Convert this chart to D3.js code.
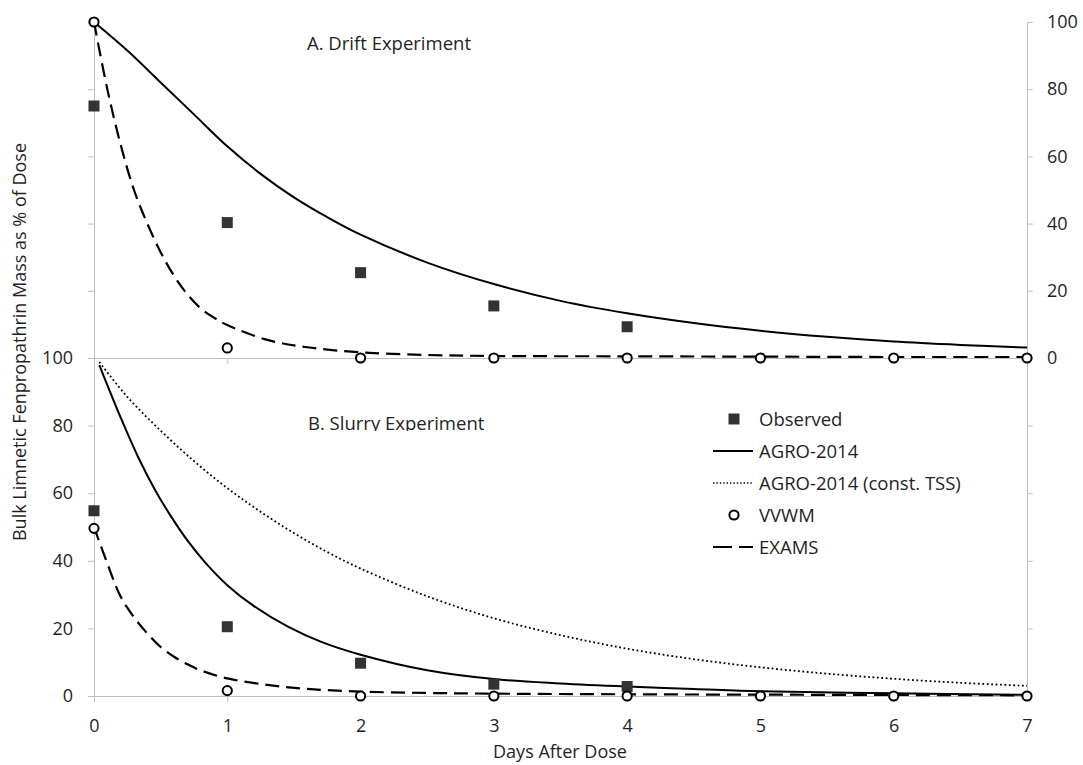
<!DOCTYPE html>
<html>
<head>
<meta charset="utf-8">
<script src="https://cdn.jsdelivr.net/npm/d3@7"></script>
<style>
  html, body { margin: 0; padding: 0; background: #fff; }
  svg { display: block; }
  text { font-family: "Open Sans", "DejaVu Sans", sans-serif; fill: #1f1f1f; }
  .axis path, .axis line { stroke: #bfbfbf; stroke-width: 1; }
  .axis text { font-size: 18px; fill: #1f1f1f; }
</style>
</head>
<body>
<svg id="chart" width="1083" height="765"></svg>
<script>
// ---------- DATA ----------
const days = [0, 1, 2, 3, 4, 5, 6, 7];
const yTicks = [0, 20, 40, 60, 80, 100];
const yMinorTicks = [20, 40, 60, 80, 100];

// Panel A: Drift Experiment
const obsDaysA = [0, 1, 2, 3, 4];
const obsA = [75, 40.3, 25.4, 15.5, 9.3];
const vvwmA = [100, 3.0, 0, 0, 0, 0, 0, 0];
const tAgroA = [0, 0.25, 0.5, 0.75, 1, 1.25, 1.5, 1.75, 2, 2.5, 3, 3.5, 4, 4.5, 5, 5.5, 6, 6.5, 7];
const agroA = [100, 91.5, 82, 72.5, 63, 54.8, 47.8, 41.9, 36.7, 28.4, 22, 17, 13.3, 10.4, 8.1, 6.3, 4.9, 3.9, 3.1];
const tExamsA = [0, 0.1, 0.2, 0.3, 0.4, 0.5, 0.6, 0.7, 0.8, 0.9, 1.0, 1.3, 1.6, 2.0, 2.5, 3, 4, 5, 6, 7];
const examsA = [100, 80, 63.5, 50, 40, 31.5, 24.5, 19, 14.8, 12, 9.8, 5.4, 3.2, 1.7, 0.9, 0.6, 0.5, 0.4, 0.3, 0.3];

// Panel B: Slurry Experiment
const obsDaysB = [0, 1, 2, 3, 4];
const obsB = [54.8, 20.5, 9.7, 3.5, 2.8];
const vvwmB = [49.6, 1.6, 0, 0, 0, 0, 0, 0];
const tAgroB = [0.04, 0.1, 0.2, 0.33, 0.455, 0.58, 0.705, 0.83, 1.0, 1.2, 1.455, 1.705, 2.0, 2.5, 3.0, 3.5, 4.0, 4.5, 5.0, 6.0, 7.0];
const agroB = [97.9, 92, 82.4, 70.8, 61.2, 53, 45.8, 39.7, 32.8, 26.6, 20.5, 16.0, 12.2, 7.6, 5.0, 3.7, 2.8, 2.1, 1.4, 0.8, 0.35];
const tTssB = [0.04, 0.25, 0.5, 0.75, 1, 1.25, 1.5, 1.75, 2, 2.5, 3, 3.5, 4, 4.5, 5, 5.5, 6, 6.5, 7];
const tssB = [98.8, 88.5, 78.5, 69.5, 61.5, 54.5, 48.2, 42.6, 37.7, 29.5, 23, 18, 14, 10.9, 8.5, 6.6, 5.1, 3.9, 3.0];
const tExamsB = [0, 0.1, 0.2, 0.3, 0.4, 0.5, 0.6, 0.7, 0.8, 1.0, 1.3, 1.6, 2.0, 2.5, 3, 4, 5, 6, 7];
const examsB = [50, 39.2, 29.4, 23.3, 18.5, 14.5, 11.6, 9.4, 7.6, 5.2, 3.3, 2.1, 1.3, 0.9, 0.7, 0.5, 0.4, 0.3, 0.2];

const legendLabels = ["Observed", "AGRO-2014", "AGRO-2014 (const. TSS)", "VVWM", "EXAMS"];

// ---------- LAYOUT ----------
const svg = d3.select("#chart");
const x = d3.scaleLinear().domain([0, 7]).range([94, 1027]);
const yA = d3.scaleLinear().domain([0, 100]).range([358, 22]);
const yB = d3.scaleLinear().domain([0, 100]).range([696, 358]);
const fmt = d3.format("d");

// ---------- AXES ----------
function styleAxis(g) { g.attr("class", "axis"); }

// Top panel
svg.append("g").attr("transform", `translate(${x(7)},0)`)
  .call(d3.axisRight(yA).tickValues(yTicks).tickFormat(fmt).tickSize(6).tickPadding(14).tickSizeOuter(0))
  .call(styleAxis);
svg.append("g").attr("transform", `translate(${x(0)},0)`)
  .call(d3.axisLeft(yA).tickValues(yMinorTicks).tickSize(6).tickFormat("").tickSizeOuter(0))
  .call(styleAxis);
svg.append("g").attr("transform", `translate(0,${yA(0)})`)
  .call(d3.axisBottom(x).tickValues(days).tickSize(6).tickFormat("").tickSizeOuter(0))
  .call(styleAxis);

// Bottom panel
svg.append("g").attr("transform", `translate(${x(0)},0)`)
  .call(d3.axisLeft(yB).tickValues(yTicks).tickFormat(fmt).tickSize(6).tickPadding(15).tickSizeOuter(0))
  .call(styleAxis);
svg.append("g").attr("transform", `translate(${x(7)},0)`)
  .call(d3.axisRight(yB).tickValues([20, 40, 60, 80]).tickSize(6).tickFormat("").tickSizeOuter(0))
  .call(styleAxis);
svg.append("g").attr("transform", `translate(0,${yB(0)})`)
  .call(d3.axisBottom(x).tickValues(days).tickFormat(fmt).tickSize(6).tickPadding(17).tickSizeOuter(0))
  .call(styleAxis);

// ---------- TITLES ----------
svg.append("text").attr("x", 307).attr("y", 50).style("font-size", "18.5px").text("A. Drift Experiment");

svg.append("clipPath").attr("id", "clipB").append("rect")
  .attr("x", 0).attr("y", 0).attr("width", 1083).attr("height", 431);
svg.append("text").attr("x", 308).attr("y", 430).attr("clip-path", "url(#clipB)")
  .style("font-size", "18.5px").text("B. Slurry Experiment");

svg.append("text").attr("x", 560).attr("y", 758).attr("text-anchor", "middle")
  .style("font-size", "18px").text("Days After Dose");
svg.append("text").attr("transform", "translate(26,342) rotate(-90)").attr("text-anchor", "middle")
  .style("font-size", "18px").text("Bulk Limnetic Fenpropathrin Mass as % of Dose");

// ---------- LINES ----------
function drawLine(ts, vs, y, dash, width) {
  const pts = ts.map((t, i) => [t, vs[i]]);
  const line = d3.line().x(d => x(d[0])).y(d => y(d[1])).curve(d3.curveCatmullRom.alpha(0.5));
  svg.append("path").datum(pts).attr("d", line)
    .attr("fill", "none").attr("stroke", "#000").attr("stroke-width", width)
    .attr("stroke-dasharray", dash);
}
drawLine(tAgroA, agroA, yA, null, 2);
drawLine(tExamsA, examsA, yA, "14,7", 2.2);
drawLine(tTssB, tssB, yB, "1.8,2.6", 1.8);
drawLine(tAgroB, agroB, yB, null, 2);
drawLine(tExamsB, examsB, yB, "14,7", 2.2);

// ---------- MARKERS ----------
function drawSquares(ds, vs, y) {
  svg.append("g").selectAll("rect").data(ds.map((d, i) => [d, vs[i]])).join("rect")
    .attr("x", d => x(d[0]) - 5.5).attr("y", d => y(d[1]) - 5.5)
    .attr("width", 11).attr("height", 11).attr("fill", "#333");
}
function drawCircles(ds, vs, y) {
  svg.append("g").selectAll("circle").data(ds.map((d, i) => [d, vs[i]])).join("circle")
    .attr("cx", d => x(d[0])).attr("cy", d => y(d[1])).attr("r", 4.6)
    .attr("fill", "#fff").attr("stroke", "#000").attr("stroke-width", 2);
}
drawSquares(obsDaysA, obsA, yA);
drawSquares(obsDaysB, obsB, yB);
drawCircles(days, vvwmA, yA);
drawCircles(days, vvwmB, yB);

// ---------- LEGEND ----------
const lg = svg.append("g").attr("transform", "translate(713,419)");
const rowH = 32;
legendLabels.forEach((lab, i) => {
  const yy = i * rowH;
  if (i === 0) lg.append("rect").attr("x", 15.5).attr("y", yy - 5.5).attr("width", 11).attr("height", 11).attr("fill", "#333");
  if (i === 1) lg.append("line").attr("x1", 0).attr("x2", 40).attr("y1", yy).attr("y2", yy).attr("stroke", "#000").attr("stroke-width", 2);
  if (i === 2) lg.append("line").attr("x1", 0).attr("x2", 40).attr("y1", yy).attr("y2", yy).attr("stroke", "#000").attr("stroke-width", 1.4).attr("stroke-dasharray", "1.4,2");
  if (i === 3) lg.append("circle").attr("cx", 21).attr("cy", yy).attr("r", 4.6).attr("fill", "#fff").attr("stroke", "#000").attr("stroke-width", 2);
  if (i === 4) lg.append("line").attr("x1", 0).attr("x2", 40).attr("y1", yy).attr("y2", yy).attr("stroke", "#000").attr("stroke-width", 2.2).attr("stroke-dasharray", "19,7");
  lg.append("text").attr("x", 46).attr("y", yy).attr("dy", "0.36em").style("font-size", "18.5px").text(lab);
});
</script>
</body>
</html>
